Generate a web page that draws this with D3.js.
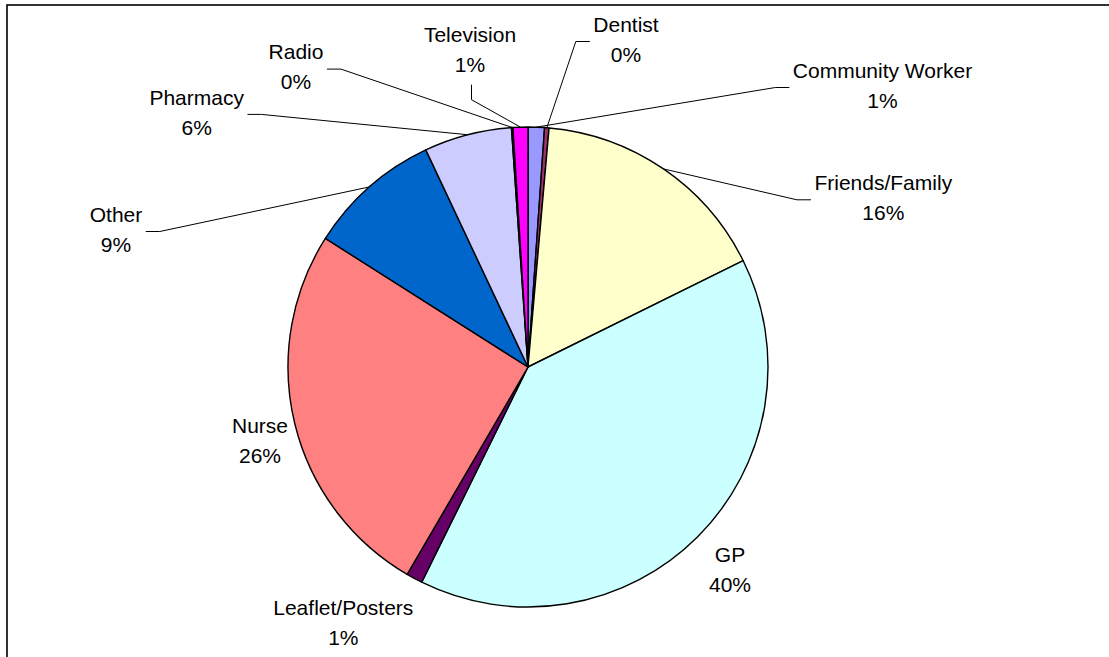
<!DOCTYPE html>
<html>
<head>
<meta charset="utf-8">
<script src="https://cdn.jsdelivr.net/npm/d3@7"></script>
<style>
  html, body { margin: 0; padding: 0; background: #fff; }
  svg { display: block; }
  text { font-family: "Liberation Sans", Arial, sans-serif; font-size: 21px; fill: #000; }
</style>
</head>
<body>
<svg id="chart" width="1109" height="657"></svg>
<script>
// ---- data ----
const categories = ["Community Worker", "Dentist", "Friends/Family", "GP", "Leaflet/Posters",
                    "Nurse", "Other", "Pharmacy", "Radio", "Television"];
const values = [1.1, 0.3, 16.3, 39.6, 1.1, 25.6, 9.0, 5.9, 0.1, 1.0];
const colors = ["#9999FF", "#993366", "#FFFFCC", "#CCFFFF", "#660066",
                "#FF8080", "#0066CC", "#CCCCFF", "#000080", "#FF00FF"];

// ---- layout (label placement relative to pie centre: dx, first-baseline dy, leader side) ----
const W = 1109, H = 657;
const cx = 528, cy = 367, R = 240;
const labelLayout = {
  "Community Worker": { dx: 354.5, dy: -289.3, side: "left" },
  "Dentist":          { dx: 98,    dy: -335.3, side: "left" },
  "Friends/Family":   { dx: 355.3, dy: -177,   side: "left" },
  "GP":               { dx: 202,   dy: 194.7,  side: null },
  "Leaflet/Posters":  { dx: -184.7,dy: 248,    side: null },
  "Nurse":            { dx: -268,  dy: 66.3,   side: null },
  "Other":            { dx: -412,  dy: -145.3, side: "right" },
  "Pharmacy":         { dx: -331.3,dy: -262.4, side: "right" },
  "Radio":            { dx: -232,  dy: -307.7, side: "right" },
  "Television":       { dx: -58,   dy: -325.3, side: "bottom" }
};
const lineGap = 30;

const svg = d3.select("#chart");

// chart area border
svg.append("rect")
  .attr("x", 7).attr("y", 5)
  .attr("width", 1300).attr("height", 1000)
  .attr("fill", "none").attr("stroke", "#000").attr("stroke-width", 1.6);

const total = d3.sum(values);
const data = categories.map((c, i) => ({ name: c, value: values[i], color: colors[i] }));

const pie = d3.pie().sort(null).value(d => d.value).startAngle(0).endAngle(2 * Math.PI);
const arcs = pie(data);
const arc = d3.arc().innerRadius(0).outerRadius(R);
const edgeArc = d3.arc().innerRadius(R).outerRadius(R);

const g = svg.append("g").attr("transform", `translate(${cx},${cy})`);

g.selectAll("path.slice")
  .data(arcs)
  .join("path")
  .attr("class", "slice")
  .attr("d", arc)
  .attr("fill", d => d.data.color)
  .attr("stroke", "#000")
  .attr("stroke-width", 1.4)
  .attr("stroke-linejoin", "round");

const fmt = v => Math.round(v / total * 100) + "%";

const labels = g.selectAll("g.label")
  .data(arcs)
  .join("g")
  .attr("class", "label");

labels.each(function (d) {
  const L = labelLayout[d.data.name];
  const sel = d3.select(this);
  const t1 = sel.append("text")
    .attr("x", L.dx).attr("y", L.dy)
    .attr("text-anchor", "middle")
    .text(d.data.name);
  const t2 = sel.append("text")
    .attr("x", L.dx).attr("y", L.dy + lineGap)
    .attr("text-anchor", "middle")
    .text(fmt(d.data.value));

  if (!L.side) return;
  const w = Math.max(t1.node().getComputedTextLength(), t2.node().getComputedTextLength());
  const [ex, ey] = edgeArc.centroid(d);
  let pts;
  if (L.side === "left") {
    const x0 = L.dx - w / 2 - 3.5, y0 = L.dy + 9.8;
    pts = [[x0, y0], [x0 - 14, y0], [ex, ey]];
  } else if (L.side === "right") {
    const x0 = L.dx + w / 2 + 3.5, y0 = L.dy + 9.8;
    pts = [[x0, y0], [x0 + 14, y0], [ex, ey]];
  } else {
    const y0 = L.dy + lineGap + 13;
    pts = [[L.dx + 1.5, y0], [L.dx + 1.5, y0 + 15], [ex, ey]];
  }
  g.insert("path", "g.label")
    .attr("d", d3.line()(pts))
    .attr("fill", "none")
    .attr("stroke", "#000")
    .attr("stroke-width", 1);
});
</script>
</body>
</html>
